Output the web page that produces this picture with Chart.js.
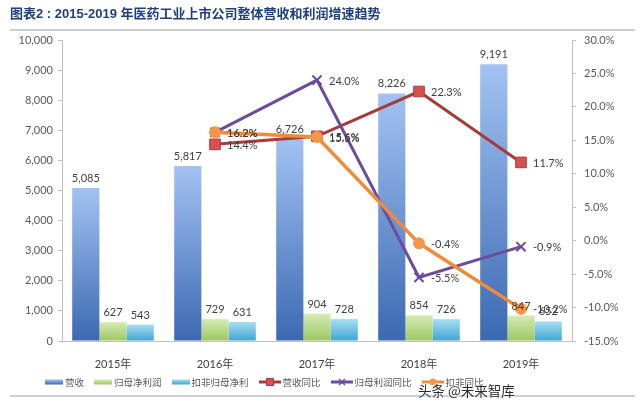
<!DOCTYPE html>
<html>
<head>
<meta charset="utf-8">
<script src="https://cdn.jsdelivr.net/npm/chart.js@4.4.1/dist/chart.umd.min.js"></script>
<style>
  body{margin:0;background:#fff;}
  #wrap{position:relative;width:640px;height:408px;overflow:hidden;background:#fff;}
  #title{position:absolute;left:10px;top:3px;font:bold 13px "Liberation Sans","Noto Sans CJK SC",sans-serif;color:#1f3f7a;white-space:nowrap;}
  .rule{position:absolute;left:10px;width:625px;height:2px;background:#cfcfcf;}
  #chart{position:absolute;left:0;top:0;}
  #legend{position:absolute;left:45px;top:375px;display:flex;align-items:center;gap:10px;font:9.5px "Noto Sans CJK SC",sans-serif;color:#595959;white-space:nowrap;}
  .item{display:flex;align-items:center;gap:2px;}
  #wm{position:absolute;left:418px;top:380px;font:13.5px "Noto Sans CJK SC",sans-serif;color:#2a2a2a;white-space:nowrap;
      text-shadow:0 0 2px #fff,0 0 2px #fff,0 0 3px #fff;}
</style>
</head>
<body>
<div id="wrap">
  <canvas id="chart" width="640" height="408"></canvas>
  <div id="title"></div>
  <div class="rule" style="top:29px"></div>
  <div class="rule" style="top:395px"></div>
  <div id="legend"></div>
  <div id="wm">头条 @未来智库</div>
</div>
<script>
// ---- data ----
const titleText = '图表2 : 2015-2019 年医药工业上市公司整体营收和利润增速趋势';
const categories = ['2015年', '2016年', '2017年', '2018年', '2019年'];
const revenue = [5085, 5817, 6726, 8226, 9191];
const netProfit = [627, 729, 904, 854, 847];
const deductedProfit = [543, 631, 728, 726, 652];
const revenueYoY = [null, 14.4, 15.6, 22.3, 11.7];
const profitYoY = [null, 16.2, 24.0, -5.5, -0.9];
const deductedYoY = [null, 16.2, 15.5, -0.4, -10.2];
const seriesNames = ['营收', '归母净利润', '扣非归母净利', '营收同比', '归母利润同比', '扣非同比'];
const leftAxis = {min: 0, max: 10000, step: 1000};
const rightAxis = {min: -15, max: 30, step: 5};

document.getElementById('title').textContent = titleText;

const FONT = 'Lato, "Noto Sans CJK SC", sans-serif';

function barGrad(top, bottom) {
  return (ctx) => {
    const chart = ctx.chart;
    if (!chart.chartArea || ctx.type !== 'data') return bottom;
    const ys = chart.scales.y;
    const yTop = ys.getPixelForValue(ctx.raw);
    const yBot = ys.getPixelForValue(0);
    if (!isFinite(yTop) || !isFinite(yBot)) return bottom;
    const g = chart.ctx.createLinearGradient(0, yTop, 0, yBot);
    g.addColorStop(0, top);
    g.addColorStop(1, bottom);
    return g;
  };
}

const C = {
  blue: ['#a3c2f2', '#3b69b2'],
  green: ['#d6ebb4', '#9cc760'],
  cyan: ['#a6def3', '#3fa4d2'],
  red: '#a53c3b', redFill: '#d4524f',
  purple: '#6c4c9c',
  orange: '#ef8c3b', orangeFill: '#f79646'
};

const labelPlugin = {
  id: 'valueLabels',
  afterDatasetsDraw(chart) {
    const ctx = chart.ctx;
    ctx.save();
    ctx.font = '11px ' + FONT;
    ctx.fillStyle = '#404040';
    chart.data.datasets.forEach((ds, i) => {
      const meta = chart.getDatasetMeta(i);
      meta.data.forEach((el, j) => {
        const v = ds.data[j];
        if (v == null) return;
        if (ds.type === 'line') {
          ctx.textAlign = 'left';
          ctx.textBaseline = 'middle';
          ctx.fillText(v.toFixed(1) + '%', el.x + 12, el.y + 1);
        } else {
          ctx.textAlign = 'center';
          ctx.textBaseline = 'bottom';
          ctx.fillText(v.toLocaleString('en-US'), el.x, el.y - 4);
        }
      });
    });
    ctx.restore();
  }
};

const tickFont = {family: FONT, size: 11};

const chart = new Chart(document.getElementById('chart'), {
  type: 'bar',
  data: {
    labels: categories,
    datasets: [
      {type: 'bar', label: seriesNames[0], data: revenue, yAxisID: 'y', order: 10,
       backgroundColor: barGrad(C.blue[0], C.blue[1]), categoryPercentage: 0.8, barPercentage: 1.0},
      {type: 'bar', label: seriesNames[1], data: netProfit, yAxisID: 'y', order: 10,
       backgroundColor: barGrad(C.green[0], C.green[1]), categoryPercentage: 0.8, barPercentage: 1.0},
      {type: 'bar', label: seriesNames[2], data: deductedProfit, yAxisID: 'y', order: 10,
       backgroundColor: barGrad(C.cyan[0], C.cyan[1]), categoryPercentage: 0.8, barPercentage: 1.0},
      {type: 'line', label: seriesNames[3], data: revenueYoY, yAxisID: 'y1', order: 3,
       borderColor: C.red, borderWidth: 3, pointStyle: 'rect', pointRadius: 7.5,
       pointBackgroundColor: C.redFill, pointBorderColor: '#b23a38', pointBorderWidth: 1, tension: 0},
      {type: 'line', label: seriesNames[4], data: profitYoY, yAxisID: 'y1', order: 2,
       borderColor: C.purple, borderWidth: 3, pointStyle: 'crossRot', pointRadius: 6.5,
       pointBorderColor: C.purple, pointBorderWidth: 2, tension: 0},
      {type: 'line', label: seriesNames[5], data: deductedYoY, yAxisID: 'y1', order: 1,
       borderColor: C.orange, borderWidth: 3.5, pointStyle: 'circle', pointRadius: 5.5,
       pointBackgroundColor: C.orangeFill, pointBorderColor: C.orangeFill, pointBorderWidth: 1, tension: 0}
    ]
  },
  options: {
    responsive: false,
    animation: false,
    layout: {padding: {top: 40, left: 0, right: 0, bottom: 0}},
    plugins: {legend: {display: false}, tooltip: {enabled: false}, title: {display: false}},
    scales: {
      x: {
        grid: {display: false},
        border: {display: true, color: '#bfbfbf', width: 1},
        ticks: {color: '#404040', font: tickFont, padding: 9, maxRotation: 0},
        afterFit(s) { s.height = 67; }
      },
      y: {
        position: 'left',
        min: leftAxis.min, max: leftAxis.max,
        ticks: {stepSize: leftAxis.step, color: '#595959', font: tickFont, padding: 5,
                callback: v => Number(v).toLocaleString('en-US')},
        grid: {drawOnChartArea: false, tickLength: 4, color: '#bfbfbf'},
        border: {color: '#bfbfbf'},
        afterFit(s) { s.width = 62; }
      },
      y1: {
        position: 'right',
        min: rightAxis.min, max: rightAxis.max,
        ticks: {stepSize: rightAxis.step, color: '#595959', font: tickFont, padding: 8,
                callback: v => Number(v).toFixed(1) + '%'},
        grid: {drawOnChartArea: false, tickLength: 4, color: '#bfbfbf'},
        border: {color: '#bfbfbf'},
        afterFit(s) { s.width = 68; }
      }
    }
  },
  plugins: [labelPlugin]
});

// ---- legend (HTML) ----
function swatchBar(c) {
  return `<svg width="18" height="6"><defs><linearGradient id="g${c[0].slice(1)}" x1="0" y1="0" x2="0" y2="1">
    <stop offset="0" stop-color="${c[0]}"/><stop offset="1" stop-color="${c[1]}"/></linearGradient></defs>
    <rect x="0" y="0.5" width="18" height="5" fill="url(#g${c[0].slice(1)})"/></svg>`;
}
function swatchLine(color, marker) {
  let m = '';
  if (marker === 'rect') m = `<rect x="7.5" y="2.5" width="7" height="7" fill="${C.redFill}" stroke="#b23a38" stroke-width="1"/>`;
  if (marker === 'cross') m = `<path d="M8 3 L14 9 M14 3 L8 9" stroke="${color}" stroke-width="1.5"/>`;
  if (marker === 'circle') m = `<circle cx="11" cy="6" r="3.5" fill="${C.orangeFill}"/>`;
  return `<svg width="22" height="12"><line x1="0" y1="6" x2="22" y2="6" stroke="${color}" stroke-width="3"/>${m}</svg>`;
}
const swatches = [swatchBar(C.blue), swatchBar(C.green), swatchBar(C.cyan),
  swatchLine(C.red, 'rect'), swatchLine(C.purple, 'cross'), swatchLine(C.orange, 'circle')];
document.getElementById('legend').innerHTML = seriesNames.map((n, i) =>
  `<span class="item">${swatches[i]}<span>${n}</span></span>`).join('');
</script>
</body>
</html>
